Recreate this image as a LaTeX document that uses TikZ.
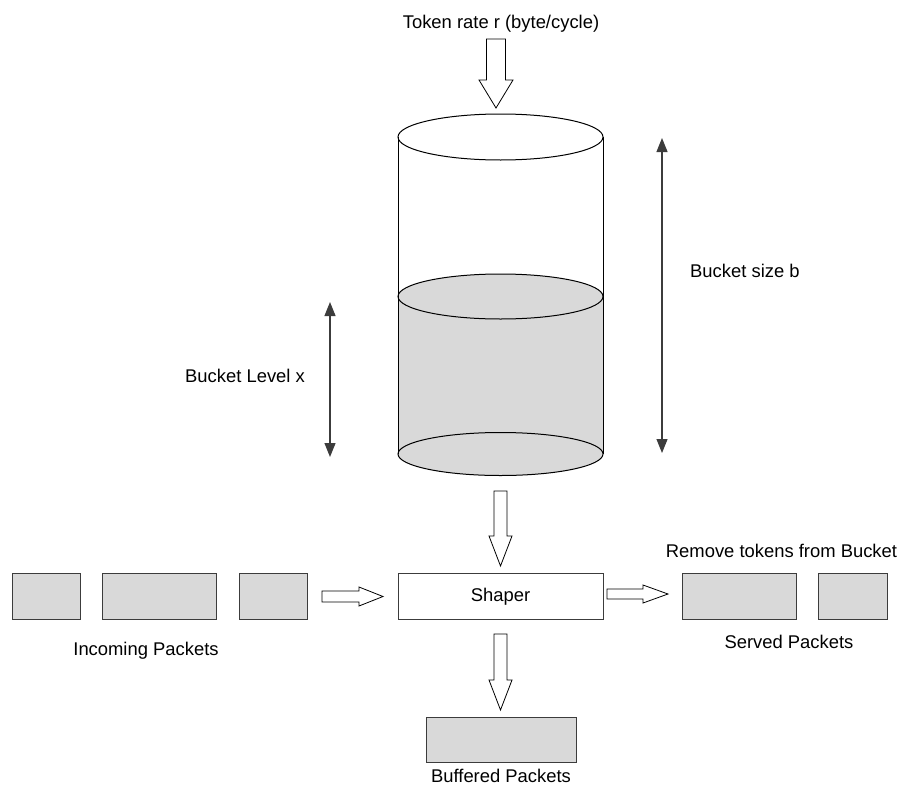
\documentclass[tikz,border=0pt]{standalone}
\usepackage{fontspec}
\setmainfont{Liberation Sans}
\usetikzlibrary{arrows.meta}
\definecolor{pktfill}{RGB}{217,217,217}
\definecolor{edgegray}{RGB}{60,60,60}
\begin{document}
\begin{tikzpicture}[x=1pt,y=-1pt,
  font=\fontsize{18.4}{22}\selectfont,
  outline/.style={draw=edgegray, line width=1pt},
  packet/.style={outline, fill=pktfill, inner sep=0pt, anchor=north west, minimum height=46pt},
  procbox/.style={outline, fill=white, inner sep=0pt, minimum width=205pt, minimum height=46pt},
  txt/.style={inner sep=0pt, anchor=base},
  blockarrow/.style={draw=black, line width=0.8pt, fill=white, line join=miter},
  dimarrow/.style={draw=edgegray, line width=1.2pt, {Triangle[length=14pt,width=11pt]}-{Triangle[length=14pt,width=11pt]}},
  tank/.style={draw=black, line width=1pt}]
\useasboundingbox (0,0) rectangle (909,787);

% token input
\node[txt] (rate) at (501,28.3) {Token rate r (byte/cycle)};
\draw[blockarrow] (486.5,39) -- (505.5,39) -- (505.5,80) -- (513,80) -- (496,108)
  -- (479,80) -- (486.5,80) -- cycle;

% bucket (cylinder) with the token level
\fill[pktfill] (500.5,454) ellipse [x radius=102.5, y radius=21.5];
\fill[pktfill] (398,296.5) rectangle (603,454);
\draw[tank] (500.5,454) ellipse [x radius=102.5, y radius=21.5];
\draw[tank, fill=pktfill] (500.5,296.5) ellipse [x radius=102.5, y radius=22.5];
\draw[tank] (500.5,137) ellipse [x radius=102.5, y radius=23];
\draw[tank] (398,137) -- (398,454);
\draw[tank] (603,137) -- (603,454);

% bucket size and level markers
\coordinate (sizeTop) at (662,138);
\coordinate (sizeBot) at (662,453);
\draw[dimarrow] (sizeTop) -- (sizeBot);
\node[txt, anchor=base west] (sizeLbl) at (690,277) {Bucket size b};

\coordinate (lvlTop) at (330,302);
\coordinate (lvlBot) at (330,457);
\draw[dimarrow] (lvlTop) -- (lvlBot);
\node[txt, anchor=base west] (lvlLbl) at (185,382) {Bucket Level x};

% bucket to shaper
\draw[blockarrow] (494,491) -- (507,491) -- (507,536) -- (512,536) -- (500.5,566)
  -- (489,536) -- (494,536) -- cycle;

% shaper
\node[procbox] (shaper) at (500.5,596) {};
\node[txt] (shaperTxt) at (500.5,601.7) {Shaper};

% incoming packets
\node[packet, minimum width=68pt] (in1) at (12,573) {};
\node[packet, minimum width=114pt] (in2) at (102,573) {};
\node[packet, minimum width=68pt] (in3) at (239,573) {};
\node[txt] (inLbl) at (146,655) {Incoming Packets};
\draw[blockarrow] (322,591) -- (359,591) -- (359,587) -- (383,596.5) -- (359,606)
  -- (359,602) -- (322,602) -- cycle;

% served packets
\draw[blockarrow] (607,589) -- (643,589) -- (643,585) -- (668,594) -- (643,603)
  -- (643,599) -- (607,599) -- cycle;
\node[txt] (rmLbl) at (781.5,557) {Remove tokens from Bucket};
\node[packet, minimum width=114pt] (out1) at (682,573) {};
\node[packet, minimum width=69pt] (out2) at (818,573) {};
\node[txt] (outLbl) at (789,648) {Served Packets};

% buffered packets
\draw[blockarrow] (494,634) -- (507,634) -- (507,680) -- (512,680) -- (500.5,710)
  -- (489,680) -- (494,680) -- cycle;
\node[packet, minimum width=150pt, minimum height=45pt] (buf) at (426,717) {};
\node[txt] (bufLbl) at (501,782) {Buffered Packets};
\end{tikzpicture}
\end{document}
